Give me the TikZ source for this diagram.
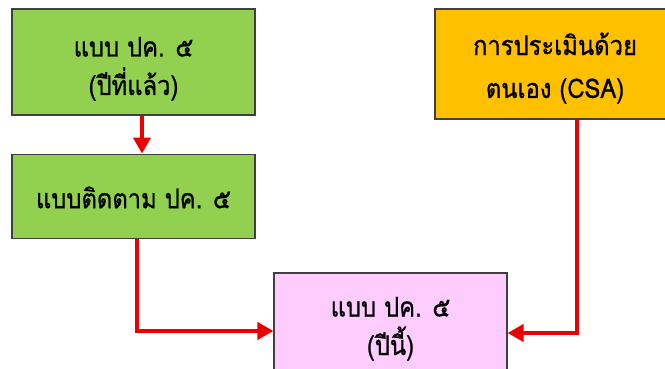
\documentclass[tikz,border=0pt]{standalone}
\usepackage{fontspec}
\newfontfamily\thaifont[Script=Thai, FakeStretch=0.88, FakeBold=0.8]{Loma}
\usetikzlibrary{arrows.meta, positioning}
\definecolor{formGreen}{RGB}{146, 208, 80}
\definecolor{csaYellow}{RGB}{255, 192, 0}
\definecolor{resultPink}{RGB}{255, 204, 255}
\definecolor{borderDark}{RGB}{64, 64, 64}
\definecolor{flowRed}{RGB}{235, 0, 0}

\begin{document}
\begin{tikzpicture}[
    x=1pt, y=-1pt,
    node distance=38pt,
    formbox/.style={
        rectangle,
        draw=borderDark,
        line width=1.2pt,
        inner sep=0pt,
        align=center,
        font=\thaifont\fontsize{27}{38.5}\selectfont,
        text=black
    },
    twoline/.style={text height=66pt, text depth=0pt},
    oneline/.style={text height=24pt, text depth=0pt},
    greenbox/.style={
        formbox,
        fill=formGreen,
        minimum width=243pt
    },
    flowarrow/.style={
        -{Triangle[length=16pt, width=17pt]},
        line width=4pt,
        flowRed
    }
]
\clip (0,0) rectangle (665,369);

% Left column - last year's form and follow-up
\node[greenbox, twoline, minimum height=106pt] (lastyear) at (133.5,62) {แบบ ปค. ๕\\(ปีที่แล้ว)};
\node[greenbox, oneline, minimum height=84pt, below=of lastyear] (followup) {แบบติดตาม ปค. ๕};

% Right column - self assessment
\node[formbox, twoline, text height=68pt, fill=csaYellow, minimum width=240pt, minimum height=110pt] (csa) at (555,64) {การประเมินด้วย\\[4.5pt]ตนเอง (CSA)};

% Bottom - this year's form
\node[formbox, twoline, fill=resultPink, minimum width=233pt, minimum height=98pt] (thisyear) at (390.5,322) {แบบ ปค. ๕\\(ปีนี้)};

% Connecting arrows
\draw[flowarrow] ([xshift=8.5pt]lastyear.south) -- ([xshift=8.5pt]followup.north);
\draw[flowarrow] ([xshift=3.5pt]followup.south) |- ([yshift=-9pt]thisyear.west);
\draw[flowarrow] ([xshift=22pt]csa.south) |- ([yshift=-11pt]thisyear.east);

\end{tikzpicture}
\end{document}
